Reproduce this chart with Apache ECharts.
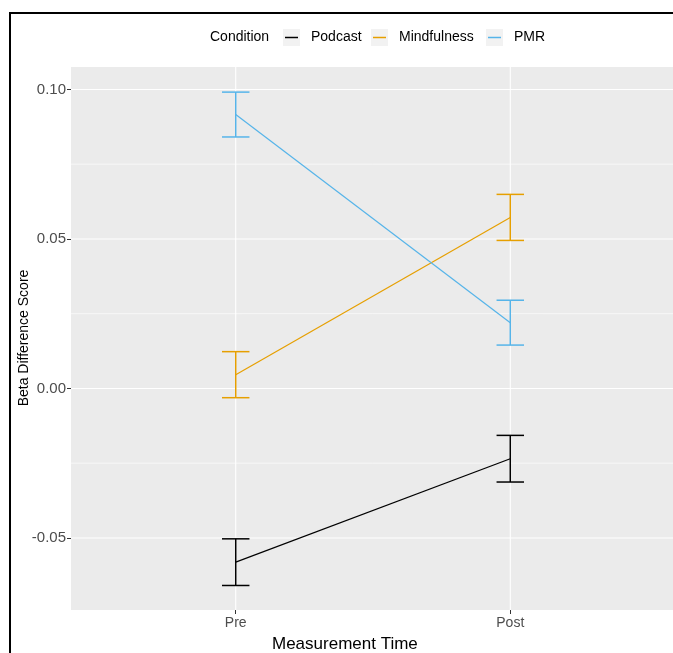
<!DOCTYPE html>
<html>
<head>
<meta charset="utf-8">
<script src="https://cdn.jsdelivr.net/npm/echarts@6/dist/echarts.min.js"></script>
<style>
    html, body { margin: 0; padding: 0; background: #fff; }
    #chart { width: 673px; height: 653px; }
</style>
</head>
<body>
<div id="chart"></div>
<script>
    var conditions = ['Podcast', 'Mindfulness', 'PMR'];
    var colors = ['#000000', '#E69F00', '#56B4E9'];
    var times = ['Pre', 'Post'];
    // mean and standard error for each condition, Pre then Post
    var podcastMean = [-0.0581, -0.0235];
    var podcastErr = [0.0078, 0.0078];
    var mindfulnessMean = [0.0046, 0.0572];
    var mindfulnessErr = [0.0077, 0.0077];
    var pmrMean = [0.0916, 0.0220];
    var pmrErr = [0.0075, 0.0075];
    var yTicks = [-0.05, 0, 0.05, 0.10];
    var yMinor = [-0.025, 0.025, 0.075];

    var means = [podcastMean, mindfulnessMean, pmrMean];
    var errs = [podcastErr, mindfulnessErr, pmrErr];
    var font = "'Liberation Sans', Arial, sans-serif";

    var chart = echarts.init(document.getElementById('chart'));

    // grid lines drawn through the axes' scales
    function gridLine(horizontal, width) {
        return function (params, api) {
            var cs = params.coordSys;
            var v = api.value(0);
            var shape;
            if (horizontal) {
                var y = api.coord([1, v])[1];
                shape = { x1: cs.x, y1: y, x2: cs.x + cs.width, y2: y };
            } else {
                var x = api.coord([v, 0])[0];
                shape = { x1: x, y1: cs.y, x2: x, y2: cs.y + cs.height };
            }
            return { type: 'line', shape: shape, style: { stroke: '#FFFFFF', lineWidth: width } };
        };
    }

    var series = [
        { type: 'custom', data: yMinor.map(function (v) { return [v]; }), renderItem: gridLine(true, 0.6), silent: true, z: 1 },
        { type: 'custom', data: yTicks.map(function (v) { return [v]; }), renderItem: gridLine(true, 1.1), silent: true, z: 1 },
        { type: 'custom', data: [[1], [2]], renderItem: gridLine(false, 1.1), silent: true, z: 1 }
    ];

    conditions.forEach(function (name, i) {
        series.push({
            name: name,
            type: 'line',
            data: times.map(function (t, j) { return [j + 1, means[i][j]]; }),
            symbol: 'none',
            lineStyle: { color: colors[i], width: 1.2 },
            z: 3
        });
        series.push({
            name: name,
            type: 'custom',
            data: times.map(function (t, j) {
                return [j + 1, means[i][j] - errs[i][j], means[i][j] + errs[i][j]];
            }),
            renderItem: function (params, api) {
                var x = api.value(0);
                var lo = api.coord([x, api.value(1)]);
                var hi = api.coord([x, api.value(2)]);
                var l = api.coord([x - 0.05, 0])[0];
                var r = api.coord([x + 0.05, 0])[0];
                var st = { stroke: colors[i], lineWidth: 1.5 };
                return {
                    type: 'group',
                    children: [
                        { type: 'line', shape: { x1: lo[0], y1: lo[1], x2: hi[0], y2: hi[1] }, style: st },
                        { type: 'line', shape: { x1: l, y1: lo[1], x2: r, y2: lo[1] }, style: st },
                        { type: 'line', shape: { x1: l, y1: hi[1], x2: r, y2: hi[1] }, style: st }
                    ]
                };
            },
            z: 4
        });
    });

    // legend, ggplot style
    var keyX = [283, 371, 486];
    var legend = [{
        type: 'text', left: 210, top: 30,
        style: { text: 'Condition', font: '14px ' + font, fill: '#000' }
    }];
    conditions.forEach(function (name, i) {
        legend.push({ type: 'rect', shape: { x: keyX[i], y: 29, width: 17, height: 17 }, style: { fill: '#F2F2F2' } });
        legend.push({ type: 'line', shape: { x1: keyX[i] + 2, y1: 37.5, x2: keyX[i] + 15, y2: 37.5 }, style: { stroke: colors[i], lineWidth: 1.5 } });
        legend.push({ type: 'text', left: keyX[i] + 28, top: 30, style: { text: name, font: '14px ' + font, fill: '#000' } });
    });

    var option = {
        backgroundColor: '#FFFFFF',
        animation: false,
        grid: {
            left: 71, top: 67, width: 604, height: 543,
            outerBoundsMode: 'none',
            show: true, backgroundColor: '#EBEBEB', borderWidth: 0
        },
        xAxis: {
            type: 'value', min: 0.4, max: 2.6,
            axisLine: { show: false, onZero: false },
            splitLine: { show: false },
            axisTick: { show: true, customValues: [1, 2], length: 4, lineStyle: { color: '#333333', width: 1 } },
            axisLabel: {
                customValues: [1, 2], margin: 6,
                formatter: function (v) { return times[Math.round(v) - 1]; },
                color: '#4D4D4D', fontSize: 14, fontFamily: font
            }
        },
        yAxis: {
            type: 'value', min: -0.0741, max: 0.1075,
            axisLine: { show: false, onZero: false },
            splitLine: { show: false },
            axisTick: { show: true, customValues: yTicks, length: 4, lineStyle: { color: '#333333', width: 1 } },
            axisLabel: {
                customValues: yTicks, margin: 5,
                formatter: function (v) { return v.toFixed(2); },
                color: '#4D4D4D', fontSize: 15, fontFamily: font
            }
        },
        graphic: [
            { type: 'group', children: legend },
            {
                type: 'text', x: 24, y: 338, rotation: Math.PI / 2,
                style: { text: 'Beta Difference Score', font: '14px ' + font, fill: '#000', align: 'center', verticalAlign: 'middle' }
            },
            { type: 'text', left: 272, top: 636, style: { text: 'Measurement Time', font: '17px ' + font, fill: '#000' } },
            { type: 'line', shape: { x1: 10, y1: 13, x2: 673, y2: 13 }, style: { stroke: '#000', lineWidth: 2 } },
            { type: 'line', shape: { x1: 10, y1: 12, x2: 10, y2: 653 }, style: { stroke: '#000', lineWidth: 2 } }
        ],
        series: series
    };

    chart.setOption(option);
</script>
</body>
</html>
